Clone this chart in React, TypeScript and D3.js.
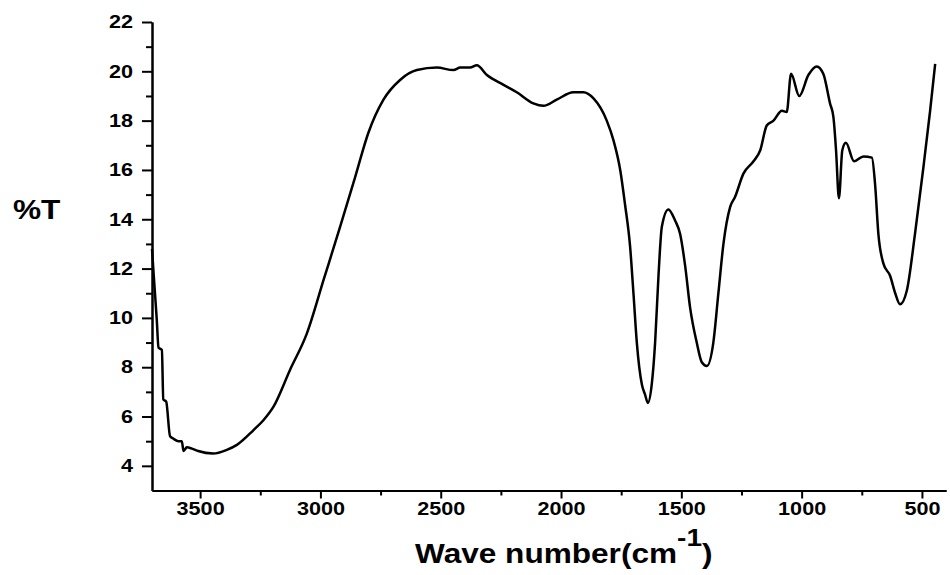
import React, { useEffect, useRef } from "react";
import * as d3 from "d3";

const WIDTH = 950;
const HEIGHT = 575;
const STRETCH = 1.2; // the reference text is drawn a bit wide
const FONT = "'Liberation Sans', Arial, sans-serif";

// FTIR spectrum
const wavenumbers = [
  3700, 3694, 3680, 3673, 3659, 3653, 3641, 3625, 3611, 3590, 3576, 3569, 3555, 3534, 3508,
  3446, 3389, 3347, 3278, 3237, 3195, 3126, 3057, 2985, 2918, 2856, 2801, 2738, 2669, 2599,
  2516, 2447, 2419, 2378, 2350, 2308, 2239, 2184, 2115, 2073, 2018, 1949, 1907, 1865, 1810,
  1782, 1754, 1734, 1713, 1699, 1685, 1664, 1651, 1639, 1623, 1609, 1595, 1581, 1554, 1526,
  1505, 1484, 1464, 1436, 1415, 1394, 1367, 1346, 1325, 1297, 1277, 1242, 1200, 1172, 1145,
  1117, 1082, 1062, 1044, 1010, 972, 937, 910, 882, 868, 857, 845, 831, 816, 782,
  743, 708, 695, 681, 660, 632, 611, 591, 563, 529, 494, 466, 445
];
const transmittance = [
  12.8, 11.9, 9.9, 8.8, 8.7, 6.7, 6.6, 5.2, 5.1, 5.0, 5.0, 4.6, 4.75, 4.7, 4.6,
  4.5, 4.65, 4.85, 5.45, 5.85, 6.4, 7.9, 9.35, 11.6, 13.7, 15.7, 17.5, 18.85, 19.65, 20.05,
  20.15, 20.05, 20.15, 20.15, 20.25, 19.85, 19.45, 19.15, 18.7, 18.6, 18.85, 19.15, 19.15, 18.9, 18.0,
  17.2, 16.0, 14.6, 12.9, 11.0, 9.0, 7.3, 6.9, 6.55, 7.3, 9.0, 11.7, 13.7, 14.4, 13.95,
  13.4, 12.1, 10.45, 9.0, 8.2, 8.05, 9.0, 11.0, 13.0, 14.5, 14.9, 15.85, 16.35, 16.8, 17.8,
  18.0, 18.4, 18.35, 19.9, 19.0, 19.85, 20.2, 19.9, 18.7, 18.15, 16.8, 14.85, 16.8, 17.1, 16.35,
  16.55, 16.5, 15.45, 13.4, 12.2, 11.7, 11.0, 10.55, 11.1, 13.4, 16.1, 18.4, 20.3
];

const xMajorTicks = [3500, 3000, 2500, 2000, 1500, 1000, 500];
const xMinorTicks = [3250, 2750, 2250, 1750, 1250, 750];
const yMajorTicks = [4, 6, 8, 10, 12, 14, 16, 18, 20, 22];
const yMinorTicks = [5, 7, 9, 11, 13, 15, 17, 19, 21];

const xScale = d3.scaleLinear().domain([3700, 400]).range([152, 946]);
const yScale = d3.scaleLinear().domain([3, 22]).range([490.5, 22]);

export default function App() {
  const axesRef = useRef<SVGGElement>(null);

  useEffect(() => {
    const g = d3.select(axesRef.current);
    g.selectAll("*").remove();

    const styleAxis = (sel: any) => {
      sel.selectAll("path, line").attr("stroke", "#000").attr("stroke-width", 2);
      sel.selectAll("text")
        .attr("fill", "#000")
        .style("font-family", FONT)
        .style("font-weight", "bold")
        .style("font-size", "18px");
    };

    // x axis
    const xMinor = g.append("g").attr("transform", `translate(0,${yScale(3)})`)
      .call(d3.axisBottom(xScale).tickValues(xMinorTicks).tickSize(5).tickSizeOuter(0).tickFormat(() => ""));
    styleAxis(xMinor);
    const xAxis = g.append("g").attr("transform", `translate(0,${yScale(3)})`)
      .call(d3.axisBottom(xScale).tickValues(xMajorTicks).tickSize(8).tickSizeOuter(0).tickPadding(4).tickFormat(d3.format("d")));
    styleAxis(xAxis);
    xAxis.selectAll("text").attr("transform", `scale(${STRETCH},1)`);

    // y axis
    const yMinor = g.append("g").attr("transform", `translate(${xScale(3700)},0)`)
      .call(d3.axisLeft(yScale).tickValues(yMinorTicks).tickSize(6).tickSizeOuter(0).tickFormat(() => ""));
    styleAxis(yMinor);
    const yAxis = g.append("g").attr("transform", `translate(${xScale(3700)},0)`)
      .call(d3.axisLeft(yScale).tickValues(yMajorTicks).tickSize(10).tickSizeOuter(0).tickFormat(d3.format("d")));
    styleAxis(yAxis);
    yAxis.selectAll("text").attr("x", -19 / STRETCH).attr("transform", `scale(${STRETCH},1)`);
  }, []);

  const points = wavenumbers.map((w, i) => [w, transmittance[i]] as [number, number]);
  const line = d3.line<[number, number]>()
    .x(d => xScale(d[0]))
    .y(d => yScale(d[1]))
    .curve(d3.curveMonotoneX);

  return (
    <svg width={WIDTH} height={HEIGHT} style={{ position: "absolute", left: 0, top: 0, background: "#fff" }}>
      <path d={line(points) ?? ""} fill="none" stroke="#000" strokeWidth={2.5} strokeLinejoin="round" />
      <g ref={axesRef}></g>
      <text transform={`translate(13,219) scale(1.13,1)`} fontFamily={FONT} fontWeight="bold" fontSize={28}>%T</text>
      <text transform={`translate(415,563) scale(1.17,1)`} fontFamily={FONT} fontWeight="bold" fontSize={27}>
        Wave number(cm<tspan dy={-17} fontSize={24}>-1</tspan><tspan dy={17}>)</tspan>
      </text>
    </svg>
  );
}
